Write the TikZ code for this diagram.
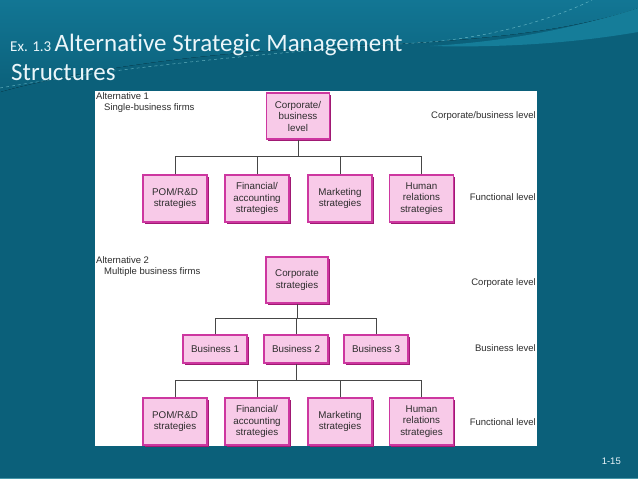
\documentclass[tikz,border=0pt]{standalone}
\usepackage{fontspec}
\setmainfont{Liberation Sans}
\newfontfamily\titlefont[Ligatures={NoCommon}]{Carlito}
\usetikzlibrary{shadows}
\definecolor{bgteal}{RGB}{11,96,122}
\definecolor{bgtop}{RGB}{18,118,148}
\definecolor{bandc}{RGB}{30,150,180}
\definecolor{dashc}{RGB}{130,205,215}
\definecolor{titlec}{RGB}{235,246,250}
\definecolor{boxfill}{RGB}{248,202,232}
\definecolor{boxline}{RGB}{205,55,160}
\definecolor{boxshadow}{RGB}{160,25,115}
\definecolor{txt}{RGB}{45,45,45}
\definecolor{linec}{RGB}{70,70,70}
\begin{document}
\begin{tikzpicture}[x=1pt,y=-1pt,
  box/.style={draw=boxline, fill=boxfill, line width=1.1pt, align=center, inner sep=0pt,
    text=txt, font=\fontsize{9.8}{11.5}\selectfont,
    drop shadow={shadow xshift=1.6pt, shadow yshift=-1.6pt, fill=boxshadow, opacity=1}},
  fnbox/.style={box, minimum width=64pt, minimum height=47pt},
  bsbox/.style={box, minimum width=64pt, minimum height=28pt},
  crbox/.style={box, minimum width=62pt, minimum height=46pt},
  lbl/.style={font=\fontsize{9.5}{11}\selectfont, text=txt, inner sep=0pt},
  conn/.style={draw=linec, line width=1pt}]
\useasboundingbox (0,0) rectangle (638,479);
% background
\fill[bgteal] (0,0) rectangle (638,479);
\fill[top color=bgtop, bottom color=bgteal] (0,0) -- (638,0) -- (638,8)
  .. controls (560,35) and (450,42) .. (350,46) .. controls (200,52) and (80,70) .. (0,92) -- cycle;
\fill[bandc, opacity=0.55] (638,8) .. controls (570,30) and (500,42) .. (430,46)
  .. controls (510,48) and (580,42) .. (638,32) -- cycle;
\draw[dashc, dashed, line width=0.5pt, opacity=0.7] (0,88) .. controls (150,62) and (330,48) .. (430,42)
  .. controls (500,36) and (560,16) .. (592,0);
\fill[dashc, opacity=0.5] (0,477.5) rectangle (638,479);
% title
\node[anchor=base west, inner sep=0pt, text=titlec] (title1) at (10,51)
  {\titlefont\fontsize{15}{18}\selectfont Ex. 1.3 \fontsize{25}{30}\selectfont Alternative Strategic Management};
\node[anchor=base west, inner sep=0pt, text=titlec] (title2) at (11,80)
  {\titlefont\fontsize{25}{30}\selectfont Structures};
% panel
\fill[white] (95,91) rectangle (537,446);
% Alternative 1
\node[lbl, anchor=west] (alt1) at (96,96.5) {Alternative 1};
\node[lbl, anchor=west] (alt1s) at (104,108.5) {Single-business firms};
\node[lbl, anchor=east] (lv1) at (536,116) {Corporate/business level};
\node[lbl, anchor=east] (lv2) at (536,197) {Functional level};
\node[crbox, minimum width=63pt] (c1) at (298,116) {Corporate/\\business\\level};
\node[fnbox] (fa) at (175,198.5) {POM/R\&D\\strategies};
\node[fnbox] (fb) at (257,198.5) {Financial/\\accounting\\strategies};
\node[fnbox] (fc) at (340,198.5) {Marketing\\strategies};
\node[fnbox] (fd) at (421.5,198.5) {Human\\relations\\strategies};
\coordinate (j1) at (298,156);
\draw[conn] (c1.south) -- (j1);
\draw[conn] (fa.north) |- (j1);
\draw[conn] (fb.north) |- (j1);
\draw[conn] (fc.north) |- (j1);
\draw[conn] (fd.north) |- (j1);
% Alternative 2
\node[lbl, anchor=west] (alt2) at (96,260.5) {Alternative 2};
\node[lbl, anchor=west] (alt2s) at (104,272.5) {Multiple business firms};
\node[lbl, anchor=east] (lv3) at (536,283) {Corporate level};
\node[lbl, anchor=east] (lv4) at (536,348) {Business level};
\node[lbl, anchor=east] (lv5) at (536,422) {Functional level};
\node[crbox] (c2) at (297,280) {Corporate\\strategies};
\node[bsbox] (b1) at (215,349) {Business 1};
\node[bsbox] (b2) at (296,349) {Business 2};
\node[bsbox] (b3) at (376,349) {Business 3};
\coordinate (j2) at (297,318);
\draw[conn] (c2.south) -- (j2);
\draw[conn] (b1.north) |- (j2);
\draw[conn] (b2.north) |- (j2);
\draw[conn] (b3.north) |- (j2);
\node[fnbox] (ga) at (175,421.5) {POM/R\&D\\strategies};
\node[fnbox] (gb) at (257,421.5) {Financial/\\accounting\\strategies};
\node[fnbox] (gc) at (340,421.5) {Marketing\\strategies};
\node[fnbox] (gd) at (421.5,421.5) {Human\\relations\\strategies};
\coordinate (j3) at (296,380);
\draw[conn] (b2.south) -- (j3);
\draw[conn] (ga.north) |- (j3);
\draw[conn] (gb.north) |- (j3);
\draw[conn] (gc.north) |- (j3);
\draw[conn] (gd.north) |- (j3);
% page number
\node[anchor=base east, inner sep=0pt, text=titlec, font=\fontsize{9.5}{11}\selectfont] (pg) at (621,464) {1-15};
\end{tikzpicture}
\end{document}
